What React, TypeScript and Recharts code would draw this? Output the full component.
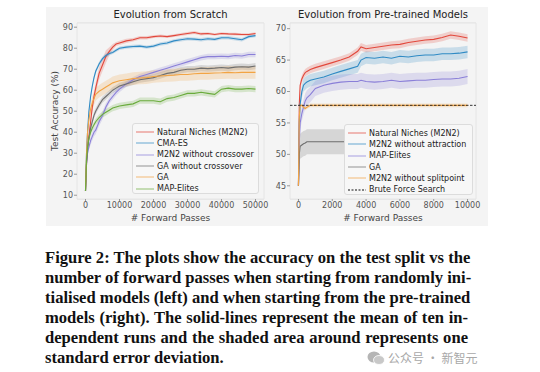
import React from 'react'
import {
  ComposedChart, Line, Area, XAxis, YAxis, CartesianGrid, ReferenceLine, ReferenceArea
} from 'recharts'

// left panel: evolution from scratch
const leftX = [0, 300, 600, 1000, 1500, 2000, 2500, 3000, 4000, 5000, 6000, 7000, 8000, 9000, 10000,
  12000, 14000, 16000, 18000, 20000, 22000, 24000, 26000, 28000, 30000, 32000, 34000, 36000, 38000,
  40000, 42000, 44000, 46000, 48000, 50000]
const m2n2L = [12, 25, 33, 38, 45, 52, 57, 61, 68, 72, 76, 78.5, 80.5, 82, 82.5,
  83.5, 84, 85, 85, 85.5, 85.8, 85.5, 86, 86.5, 87, 87.5, 86.8, 87, 86.5, 87, 86.8, 86.7, 86.5, 86.5, 87]
const m2n2LErr = [0, 1, 1.5, 2, 2, 2.5, 2.5, 2.5, 3, 3, 3, 2, 1.5, 1, 1,
  1, 0.8, 0.8, 0.8, 0.7, 0.7, 0.7, 0.7, 0.7, 0.7, 0.7, 0.7, 0.6, 0.6, 0.6, 0.6, 0.6, 0.6, 0.6, 0.6]
const cmaL = [12, 30, 40, 50, 57, 62, 66, 69, 72.5, 75, 76.5, 77.5, 78, 79, 80,
  80.5, 80.8, 81, 80.5, 81, 82, 82.5, 83.5, 84, 84.5, 84.3, 84, 84.5, 84.2, 85, 85, 84.5, 84, 85.5, 86]
const cmaLErr = [0, 1, 1, 1, 1, 1, 1, 1, 1, 1, 1, 1, 0.8, 0.8, 0.8,
  0.8, 0.8, 0.8, 0.8, 0.8, 0.8, 0.8, 0.8, 0.8, 0.8, 0.8, 0.8, 0.8, 0.8, 0.8, 0.8, 0.8, 0.8, 0.8, 0.8]
const noCrossL = [12, 25, 30, 33, 36, 38, 40, 41, 45, 48, 52, 55, 57, 59, 60.5,
  63, 65, 66.5, 67.5, 68.5, 69.5, 70.5, 71.5, 72.5, 73.5, 74.5, 75.5, 76, 76, 76.2, 76, 76.5, 76.3, 77, 77]
const noCrossLErr = [0, 1, 1.5, 1.5, 2, 2, 2, 2, 2, 2, 1.8, 1.5, 1.5, 1.5, 1.5,
  1.3, 1.3, 1.3, 1.3, 1.3, 1.3, 1.3, 1.3, 1.3, 1.3, 1.3, 1.3, 1.3, 1.3, 1.3, 1.3, 1.3, 1.3, 1.3, 1.3]
const gaNoCrossL = [12, 25, 32, 37, 42, 45, 48, 50, 53, 55.5, 57, 58.5, 60, 61, 62,
  63, 64, 65, 65.5, 66, 67, 68, 68.5, 69.5, 70, 70, 70.5, 70.3, 70.5, 70.8, 70.5, 71, 71.2, 71, 71.5]
const gaNoCrossLErr = [0, 1, 1.5, 1.5, 1.5, 1.5, 1.5, 1.5, 1.5, 1.5, 1.5, 1.5, 1.5, 1.5, 1.5,
  1.5, 1.5, 1.5, 1.5, 1.5, 1.5, 1.5, 1.5, 1.5, 1.5, 1.5, 1.5, 1.5, 1.5, 1.5, 1.5, 1.5, 1.5, 1.5, 1.5]
const gaL = [12, 30, 40, 46, 51, 54, 56, 58, 59.5, 60.5, 61.5, 62.5, 63.5, 64, 64.5,
  65, 65.5, 65.8, 66, 66.5, 66.8, 67, 67.2, 67.5, 67.5, 67.8, 68, 68, 68.2, 68.3, 68.5, 68.3, 68.5, 68.5, 68.5]
const gaLErr = [0, 1.5, 2, 2.5, 2.5, 3, 3, 3, 3, 3, 3, 3, 3, 3, 3,
  3, 3, 3, 3, 3, 3, 3, 3, 3, 3, 3, 3, 3, 3, 3, 3, 3, 3, 3, 3]
const mapElitesL = [12, 27, 33, 37, 40, 42, 43.5, 45, 47, 48.5, 49.5, 50.5, 51.5, 52, 52.5,
  53, 53.5, 55, 55, 55, 54.5, 56, 56.5, 57.5, 58.5, 58.5, 59, 58.5, 58, 60.5, 61, 60.5, 60.5, 60.8, 60.5]
const mapElitesLErr = [0, 1, 1.5, 1.5, 1.5, 1.5, 1.5, 1.5, 1.5, 1.5, 1.5, 1.5, 1.5, 1.5, 1.5,
  1.5, 1.5, 1.5, 1.5, 1.5, 1.5, 1.5, 1.5, 1.5, 1.5, 1.5, 1.5, 1.5, 1.5, 1.5, 1.5, 1.5, 1.5, 1.5, 1.5]

// right panel: evolution from pre-trained models
const rightX = [0, 50, 100, 200, 300, 400, 500, 700, 1000, 1500, 2000, 2500, 3000, 3500, 3700,
  4000, 4500, 5000, 5500, 6000, 6500, 7000, 7500, 8000, 8500, 9000, 9500, 10000]
const m2n2R = [45, 58, 61, 62, 62.6, 63, 63.2, 63.5, 63.8, 64.2, 64.6, 65, 65.5, 66.4, 67.1,
  66.8, 67, 67.2, 67.4, 67.5, 67.8, 68, 68.2, 68.3, 68.6, 69, 68.8, 68.5]
const m2n2RErr = [0, 0.6, 0.6, 0.6, 0.6, 0.6, 0.6, 0.6, 0.6, 0.6, 0.6, 0.6, 0.6, 0.6, 0.6,
  0.6, 0.6, 0.6, 0.6, 0.6, 0.6, 0.6, 0.6, 0.6, 0.6, 0.6, 0.6, 0.6]
const noAttrR = [45, 55, 58, 60, 61, 61.3, 61.5, 61.8, 62, 62.3, 62.8, 63.2, 63.6, 64, 65,
  65.4, 65.3, 65.5, 65.3, 65.6, 65.5, 65.7, 65.8, 65.8, 66, 66, 66.1, 66.3]
const noAttrRErr = [0, 1, 1, 1, 1, 1, 1, 1, 1, 1, 1, 1, 1, 1, 1,
  1, 1, 1, 1, 1, 1, 1, 1, 1, 1, 1, 1, 1]
const mapElitesR = [45, 52, 55, 56.5, 57.5, 58.5, 59, 59.5, 60.5, 61, 61.3, 61.5, 61.6, 61.6, 61.8,
  61.6, 61.5, 61.6, 61.8, 61.6, 61.7, 61.8, 61.8, 61.9, 62, 62, 62.1, 62.4]
const mapElitesRErr = [0, 1.2, 1.2, 1.2, 1.2, 1.2, 1.2, 1.2, 1.2, 1.2, 1.2, 1.2, 1.2, 1.2, 1.2,
  1.2, 1.2, 1.2, 1.2, 1.2, 1.2, 1.2, 1.2, 1.2, 1.2, 1.2, 1.2, 1.2]
const gaR = [45, 50, 51.3, 51.5, 51.7, 51.8, 52, 52, 52, 52, 52, 52, 52, 52, 52,
  52, 52, 52, 52, 52, 52, 52, 52, 52, 52, 52, 52, 52]
const gaRErr = [0, 2, 2, 2, 2, 2, 2, 2, 2, 2, 2, 2, 2, 2, 2,
  2, 2, 2, 2, 2, 2, 2, 2, 2, 2, 2, 2, 2]
const noSplitR = [45, 56, 57.8, 57.8, 57.5, 57.3, 57.5, 57.8, 57.8, 57.8, 57.8, 57.8, 57.8, 57.8, 57.8,
  57.8, 57.8, 57.8, 57.8, 57.8, 57.8, 57.8, 57.8, 57.8, 57.8, 57.8, 57.8, 57.8]
const noSplitRErr = [0, 0.3, 0.3, 0.3, 0.3, 0.3, 0.3, 0.3, 0.3, 0.3, 0.3, 0.3, 0.3, 0.3, 0.3,
  0.3, 0.3, 0.3, 0.3, 0.3, 0.3, 0.3, 0.3, 0.3, 0.3, 0.3, 0.3, 0.3]
const bruteForce = 57.8

const leftXTicks = [0, 10000, 20000, 30000, 40000, 50000]
const leftYTicks = [10, 20, 30, 40, 50, 60, 70, 80, 90]
const rightXTicks = [0, 2000, 4000, 6000, 8000, 10000]
const rightYTicks = [45, 50, 55, 60, 65, 70]

const C = {
  red: '#e2483c', blue: '#2f8ac4', purple: '#8a7fd8',
  gray: '#6e6e6e', orange: '#f2a444', green: '#6aab3c',
}

const leftSeries = [
  { key: 'm2n2', name: 'Natural Niches (M2N2)', color: C.red, v: m2n2L, e: m2n2LErr },
  { key: 'cma', name: 'CMA-ES', color: C.blue, v: cmaL, e: cmaLErr },
  { key: 'nocross', name: 'M2N2 without crossover', color: C.purple, v: noCrossL, e: noCrossLErr },
  { key: 'ganocross', name: 'GA without crossover', color: C.gray, v: gaNoCrossL, e: gaNoCrossLErr },
  { key: 'ga', name: 'GA', color: C.orange, v: gaL, e: gaLErr },
  { key: 'map', name: 'MAP-Elites', color: C.green, v: mapElitesL, e: mapElitesLErr },
]
const rightSeries = [
  { key: 'm2n2', name: 'Natural Niches (M2N2)', color: C.red, v: m2n2R, e: m2n2RErr },
  { key: 'noattr', name: 'M2N2 without attraction', color: C.blue, v: noAttrR, e: noAttrRErr },
  { key: 'map', name: 'MAP-Elites', color: C.purple, v: mapElitesR, e: mapElitesRErr },
  { key: 'ga', name: 'GA', color: C.gray, v: gaR, e: gaRErr },
  { key: 'nosplit', name: 'M2N2 without splitpoint', color: C.orange, v: noSplitR, e: noSplitRErr },
]

const buildRows = (xs: number[], series: any[]) =>
  xs.map((x, i) => {
    const row: any = { x }
    series.forEach(s => {
      row[s.key] = s.v[i]
      row[s.key + 'Band'] = [s.v[i] - s.e[i], s.v[i] + s.e[i]]
    })
    return row
  })

const leftData = buildRows(leftX, leftSeries)
const rightData = buildRows(rightX, rightSeries)

const FONT = 'DejaVu Sans'
const tick = { fontSize: 8, fill: '#555', fontFamily: FONT }

function Panel({ data, series, xDomain, yDomain, xTicks, yTicks, left, yLabel, yAxisW, marginLeft, marginRight, children }: any) {
  return (
    <div style={{ position: 'absolute', left, top: 0 }}>
      <ComposedChart width={270} height={225} data={data}
        margin={{ top: 23, right: marginRight, bottom: 0, left: marginLeft }}>
        <ReferenceArea x1={xDomain[0]} x2={xDomain[1]} y1={yDomain[0]} y2={yDomain[1]}
          fill="#f4f4f4" stroke="#e2e2e2" strokeWidth={0.8} fillOpacity={1} />
        <CartesianGrid vertical={false} stroke="#dedede" strokeWidth={0.8} />
        <XAxis dataKey="x" type="number" domain={xDomain} ticks={xTicks} height={26}
          tick={tick} tickSize={2} tickMargin={1} axisLine={false} tickLine={{ stroke: '#999' }}
          label={{ value: '# Forward Passes', position: 'insideBottom', offset: 4, fontSize: 9, fill: '#444', fontFamily: FONT }} />
        <YAxis type="number" domain={yDomain} ticks={yTicks} width={yAxisW}
          tick={tick} tickSize={3} tickMargin={1} axisLine={false} tickLine={{ stroke: '#999' }}
          label={yLabel ? { value: yLabel, angle: -90, position: 'center', fontSize: 9, fill: '#444', fontFamily: FONT } : undefined} />
        {series.map((s: any) => (
          <Area key={s.key + 'b'} dataKey={s.key + 'Band'} type="linear" stroke="none"
            fill={s.color} fillOpacity={0.22} isAnimationActive={false} activeDot={false} />
        ))}
        {series.map((s: any) => (
          <Line key={s.key} dataKey={s.key} type="linear" stroke={s.color} strokeWidth={1.1}
            dot={false} activeDot={false} isAnimationActive={false} />
        ))}
        {children}
      </ComposedChart>
    </div>
  )
}

function LegendBox({ items, left, top, width }: any) {
  return (
    <div style={{
      position: 'absolute', left, top, width, height: 71, background: '#f7f7f7',
      border: '1px solid #dcdcdc', borderRadius: 3, boxSizing: 'border-box',
      fontFamily: FONT, fontSize: 8, color: '#222',
    }}>
      {items.map((it: any, i: number) => (
        <div key={it.name} style={{ position: 'absolute', left: 2, top: 2.5 + i * 11.3, height: 11.3, display: 'flex', alignItems: 'center', whiteSpace: 'nowrap' }}>
          <svg width={22} height={8}>
            <line x1={1} y1={4} x2={19} y2={4} stroke={it.color} strokeWidth={1.2}
              strokeOpacity={it.dashed ? 1 : 0.6} strokeDasharray={it.dashed ? '2 1.5' : undefined} />
          </svg>
          <span>{it.name}</span>
        </div>
      ))}
    </div>
  )
}

const captionLines = [
  'Figure 2: The plots show the accuracy on the test split vs the',
  'number of forward passes when starting from randomly ini-',
  'tialised models (left) and when starting from the pre-trained',
  'models (right). The solid-lines represent the mean of ten in-',
  'dependent runs and the shaded area around represents one',
]

export default function App() {
  return (
    <div style={{ position: 'absolute', left: 0, top: 0, width: 540, height: 372, background: '#fff', overflow: 'hidden' }}>
      <div style={{ position: 'absolute', left: 46, top: 7, width: 442, height: 219, background: '#f4f4f4' }} />

      <Panel data={leftData} series={leftSeries} xDomain={[-2500, 52500]} yDomain={[8.2, 92]}
        xTicks={leftXTicks} yTicks={leftYTicks} left={0} yLabel="Test Accuracy (%)"
        yAxisW={44} marginLeft={33} marginRight={6} />
      <Panel data={rightData} series={rightSeries} xDomain={[-500, 10500]} yDomain={[42.9, 70.9]}
        xTicks={rightXTicks} yTicks={rightYTicks} left={270}
        yAxisW={20} marginLeft={0} marginRight={64}>
        <ReferenceLine y={bruteForce} stroke="#222" strokeWidth={0.9} strokeDasharray="2.5 1.5" />
      </Panel>

      <div style={{ position: 'absolute', left: 77, width: 187, top: 9, textAlign: 'center', fontFamily: FONT, fontSize: 10, color: '#222' }}>
        Evolution from Scratch
      </div>
      <div style={{ position: 'absolute', left: 290, width: 186, top: 9, textAlign: 'center', fontFamily: FONT, fontSize: 10, color: '#222', whiteSpace: 'nowrap' }}>
        Evolution from Pre-trained Models
      </div>

      <LegendBox left={132} top={123} width={127}
        items={leftSeries.map(s => ({ name: s.name, color: s.color }))} />
      <LegendBox left={344} top={124} width={129}
        items={[...rightSeries.map(s => ({ name: s.name, color: s.color })), { name: 'Brute Force Search', color: '#111', dashed: true }]} />

      <div style={{ position: 'absolute', left: 45, top: 248, width: 423, fontFamily: 'Liberation Serif', fontWeight: 'bold', fontSize: 16.6, lineHeight: '20px', color: '#111' }}>
        {captionLines.map(l => (
          <div key={l} style={{ textAlign: 'justify', textAlignLast: 'justify', whiteSpace: 'nowrap' }}>{l}</div>
        ))}
        <div>standard error deviation.</div>
      </div>

      <div style={{ position: 'absolute', left: 367, top: 349, display: 'flex', alignItems: 'center', color: '#a8a8a8', fontFamily: 'Noto Sans CJK SC', fontSize: 12 }}>
        <svg width={18} height={16} style={{ marginRight: 3 }}>
          <ellipse cx={7} cy={7} rx={6.5} ry={5.5} fill="#b5b5b5" />
          <ellipse cx={12} cy={10} rx={5.5} ry={4.5} fill="#c8c8c8" stroke="#fff" strokeWidth={0.8} />
        </svg>
        <span>公众号 · 新智元</span>
      </div>
    </div>
  )
}
